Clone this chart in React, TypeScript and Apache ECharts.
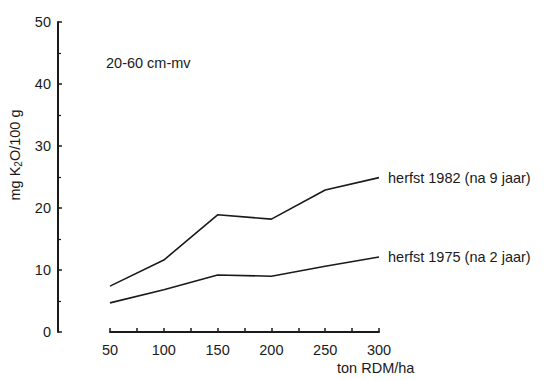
import React, { useEffect, useRef } from "react";
import * as echarts from "echarts";

// Dosage of RDM (ton/ha) and K2O content (mg/100 g) in the 20-60 cm layer
const doses = [50, 100, 150, 200, 250, 300];
const autumn1982 = [7.4, 11.6, 18.9, 18.2, 22.9, 24.9];
const autumn1975 = [4.7, 6.8, 9.2, 9.0, 10.6, 12.1];
const seriesNames = ["herfst 1982 (na 9 jaar)", "herfst 1975 (na 2 jaar)"];
const yTicks = [0, 10, 20, 30, 40, 50];

const FONT = "'Liberation Sans', Arial, sans-serif";
const INK = "#1a1a1a";
const FS = 14.5;

export default function App() {
  const ref = useRef<HTMLDivElement>(null);

  useEffect(() => {
    if (!ref.current) return;
    const chart = echarts.init(ref.current, undefined, { renderer: "svg" });

    const lineSeries = (name: string, values: number[]) => ({
      name,
      type: "line",
      data: doses.map((d, i) => [d, values[i]]),
      showSymbol: false,
      lineStyle: { color: INK, width: 1.6 },
      endLabel: {
        show: true,
        formatter: name,
        distance: 9,
        color: INK,
        fontFamily: FONT,
        fontSize: FS,
      },
    });

    chart.setOption({
      animation: false,
      backgroundColor: "#ffffff",
      grid: { left: 110, right: 170, top: 22, bottom: 48 },
      xAxis: {
        type: "value",
        min: 50,
        max: 300,
        interval: 50,
        offset: 2,
        axisLine: { show: true, lineStyle: { color: INK, width: 2 } },
        axisTick: { show: true, inside: true, length: 4, lineStyle: { color: INK, width: 1.5 } },
        minorTick: { show: true, splitNumber: 2, length: 4, lineStyle: { color: INK, width: 1.5 } },
        splitLine: { show: false },
        axisLabel: { color: INK, fontFamily: FONT, fontSize: FS, margin: 8 },
      },
      yAxis: {
        type: "value",
        min: 0,
        max: 50,
        interval: 10,
        offset: 52,
        axisLine: { show: true, lineStyle: { color: INK, width: 2 } },
        axisTick: { show: true, inside: true, length: 4, lineStyle: { color: INK, width: 1.5 } },
        minorTick: { show: true, splitNumber: 2, length: 3, lineStyle: { color: INK, width: 1.2 } },
        splitLine: { show: false },
        axisLabel: {
          color: INK,
          fontFamily: FONT,
          fontSize: FS,
          margin: 7,
          formatter: (v: number) => (yTicks.includes(v) ? String(v) : ""),
        },
      },
      series: [lineSeries(seriesNames[0], autumn1982), lineSeries(seriesNames[1], autumn1975)],
      graphic: [
        {
          type: "text",
          left: 106,
          top: 55,
          style: { text: "20-60 cm-mv", fill: INK, font: `${FS}px ${FONT}` },
        },
        {
          type: "text",
          left: 337,
          top: 360,
          style: { text: "ton RDM/ha", fill: INK, font: `${FS}px ${FONT}` },
        },
        {
          type: "text",
          x: 15,
          y: 155,
          rotation: Math.PI / 2,
          style: {
            text: "mg K{sub|2}O/100 g",
            fill: INK,
            font: `${FS}px ${FONT}`,
            align: "center",
            verticalAlign: "middle",
            rich: {
              sub: { fontSize: 10, fontFamily: FONT, fill: INK, padding: [7, 0, 0, 0] },
            },
          },
        },
      ],
    });

    return () => chart.dispose();
  }, []);

  return <div ref={ref} style={{ width: 549, height: 380, marginLeft: -8, marginTop: -8 }} />;
}
